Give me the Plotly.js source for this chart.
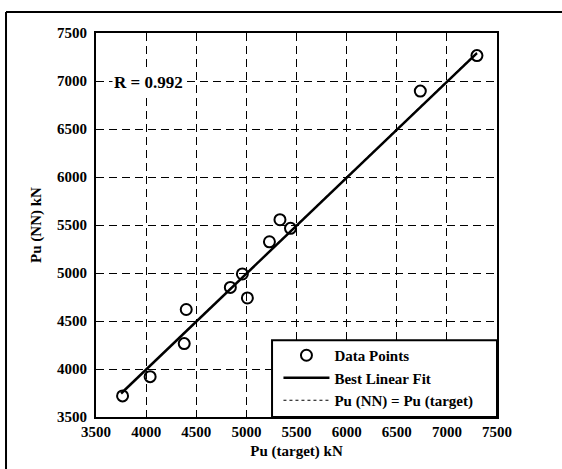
<!DOCTYPE html>
<html>
<head>
<meta charset="utf-8">
<script src="https://cdn.plot.ly/plotly-3.0.1.min.js"></script>
<style>
html,body{margin:0;padding:0;background:#fff;}
#chart{width:562px;height:469px;}
</style>
</head>
<body>
<div id="chart"></div>
<script>
// Data
const targetPu = [3765, 4040, 4380, 4400, 4840, 4960, 5010, 5230, 5335, 5440, 6735, 7300];
const nnPu     = [3720, 3920, 4265, 4620, 4850, 4990, 4740, 5325, 5555, 5465, 6895, 7265];
const fitX = [3750, 7300];
const fitY = [3745, 7290];
const identX = [3750, 7300];
const identY = [3750, 7300];
const tickVals = [3500, 4000, 4500, 5000, 5500, 6000, 6500, 7000, 7500];
const tickText = ['3500', '4000', '4500', '5000', '5500', '6000', '6500', '7000', '7500'];
const rText = 'R = 0.992';

const fam = '"Liberation Serif", "Times New Roman", serif';
const font = {family: fam, size: 15, color: '#000', weight: 'bold'};

const traces = [
  {x: targetPu, y: nnPu, mode: 'markers', type: 'scatter', name: 'Data Points',
   marker: {symbol: 'circle-open', size: 11, color: '#000', line: {width: 2, color: '#000'}}},
  {x: fitX, y: fitY, mode: 'lines', type: 'scatter', name: 'Best Linear Fit',
   line: {color: '#000', width: 2.5}},
  {x: identX, y: identY, mode: 'lines', type: 'scatter', name: 'Pu (NN) = Pu (target)',
   line: {color: '#000', width: 1, dash: 'dot'}}
];

const axisCommon = {
  range: [3500, 7500], tickvals: tickVals, ticktext: tickText,
  showgrid: true, gridcolor: '#000', gridwidth: 1, griddash: '8px,5px',
  showline: true, linecolor: '#000', linewidth: 2, mirror: true,
  ticks: 'inside', ticklen: 4, tickcolor: '#000', zeroline: false,
  tickfont: font, automargin: false
};

const layout = {
  width: 562, height: 469,
  margin: {l: 96, r: 65, t: 33, b: 52},
  paper_bgcolor: '#fff', plot_bgcolor: '#fff',
  font: font,
  showlegend: true,
  xaxis: Object.assign({}, axisCommon, {title: {text: 'Pu (target) kN', font: font, standoff: 6}}),
  yaxis: Object.assign({}, axisCommon, {ticklabelstandoff: 4, title: {text: 'Pu (NN) kN', font: font, standoff: 12}}),
  legend: {x: 0.455, y: 0, xanchor: 'left', yanchor: 'bottom', bgcolor: 'rgba(0,0,0,0)',
           borderwidth: 0, font: font, itemwidth: 46, tracegroupgap: 0},
  annotations: [
    {text: rText, xref: 'paper', yref: 'paper', x: 0.04, y: 0.87, xanchor: 'left', yanchor: 'middle',
     showarrow: false, font: Object.assign({}, font, {size: 17}), bgcolor: '#fff'}
  ],
  shapes: [
    {type: 'rect', xref: 'paper', yref: 'paper', x0: 0.439, x1: 1, y0: 0, y1: 0.2, layer: 'above',
     fillcolor: '#fff', line: {color: '#000', width: 2}},
    {type: 'line', xref: 'paper', yref: 'paper', x0: -0.2244, x1: 1.17, y0: 1.0547, y1: 1.0547, line: {color: '#000', width: 2}},
    {type: 'line', xref: 'paper', yref: 'paper', x0: -0.2244, x1: -0.2244, y0: 1.0547, y1: -0.14, line: {color: '#000', width: 2}}
  ]
};

Plotly.newPlot('chart', traces, layout, {displayModeBar: false, staticPlot: true});
</script>
</body>
</html>
